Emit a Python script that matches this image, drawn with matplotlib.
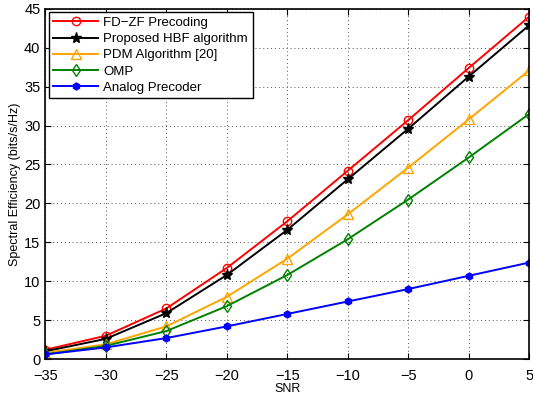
import matplotlib
matplotlib.use('Agg')
import matplotlib.pyplot as plt

plt.rcParams['font.family'] = ['Liberation Sans', 'DejaVu Sans']

snr = [-35, -30, -25, -20, -15, -10, -5, 0, 5]
fd_zf = [1.2, 3.0, 6.5, 11.7, 17.7, 24.2, 30.7, 37.4, 44.0]
hbf = [1.0, 2.6, 5.9, 10.8, 16.6, 23.1, 29.6, 36.3, 42.9]
pdm = [0.8, 1.9, 4.2, 8.0, 12.9, 18.6, 24.6, 30.8, 37.1]
omp = [0.6, 1.7, 3.6, 6.8, 10.8, 15.4, 20.5, 25.9, 31.5]
analog = [0.6, 1.5, 2.7, 4.2, 5.8, 7.4, 9.0, 10.7, 12.4]

fig, ax = plt.subplots(figsize=(5.33, 3.99), dpi=100)
fig.subplots_adjust(left=0.085, right=0.993, top=0.978, bottom=0.1)

ax.plot(snr, fd_zf, color='red', marker='o', mfc='none', ms=6, lw=1.4, label='FD\u2212ZF Precoding')
ax.plot(snr, hbf, color='black', marker='*', ms=8, lw=1.4, label='Proposed HBF algorithm')
ax.plot(snr, pdm, color='#ffa500', marker='^', mfc='none', ms=7, lw=1.4, label='PDM Algorithm [20]')
ax.plot(snr, omp, color='green', marker='d', mfc='none', ms=6, lw=1.4, label='OMP')
ax.plot(snr, analog, color='blue', marker='h', ms=5, lw=1.4, label='Analog Precoder')

ax.set_xlim(-35, 5)
ax.set_ylim(0, 45)
ax.set_xticks(range(-35, 6, 5))
ax.set_yticks(range(0, 46, 5))
ax.set_xticklabels([str(v).replace('-', '\u2212') for v in range(-35, 6, 5)])
ax.grid(True, linestyle=(0, (1, 3)), color='#555555', lw=0.7)
ax.tick_params(direction='in', top=True, right=True, labelsize=10.5, length=4)
ax.tick_params(axis='x', pad=7)
for s in ax.spines.values():
    s.set_linewidth(1.2)

ax.set_xlabel('SNR', fontsize=9, labelpad=0)
ax.set_ylabel('Spectral Efficiency (bits/s/Hz)', fontsize=9, labelpad=2)

leg = ax.legend(loc='upper left', fontsize=9.5, fancybox=False, framealpha=1,
                edgecolor='black', borderaxespad=0.25, handlelength=3.4,
                labelspacing=0.3, borderpad=0.35, handletextpad=0.4)
leg.get_frame().set_linewidth(1.0)

fig.savefig('out.png', dpi=100)
